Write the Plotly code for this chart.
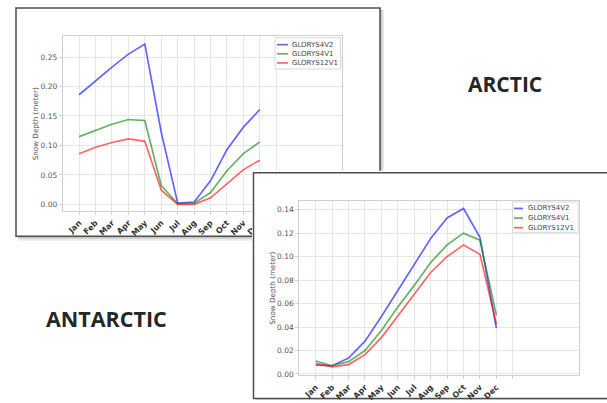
import plotly.graph_objects as go

W, H = 607, 403

# ---------------- data ----------------
months = ["Jan", "Feb", "Mar", "Apr", "May", "Jun", "Jul", "Aug", "Sep", "Oct", "Nov", "Dec"]
series_names = ["GLORYS4V2", "GLORYS4V1", "GLORYS12V1"]
series_colors = ["rgba(0,0,255,0.6)", "rgba(0,128,0,0.6)", "rgba(255,0,0,0.6)"]

arctic_4v2 = [0.186, 0.210, 0.233, 0.255, 0.272, 0.122, 0.002, 0.004, 0.040, 0.093, 0.131, 0.161]
arctic_4v1 = [0.115, 0.126, 0.136, 0.144, 0.142, 0.032, 0.001, 0.002, 0.020, 0.057, 0.086, 0.106]
arctic_12v1 = [0.086, 0.097, 0.105, 0.111, 0.107, 0.024, 0.000, 0.000, 0.011, 0.035, 0.059, 0.075]

antarctic_4v2 = [0.0076, 0.0070, 0.0135, 0.028, 0.049, 0.071, 0.094, 0.1155, 0.133, 0.141, 0.1165, 0.039]
antarctic_4v1 = [0.011, 0.007, 0.0105, 0.020, 0.037, 0.057, 0.0755, 0.095, 0.110, 0.120, 0.114, 0.050]
antarctic_12v1 = [0.009, 0.006, 0.008, 0.0165, 0.031, 0.0495, 0.0685, 0.0865, 0.100, 0.110, 0.102, 0.0425]

y_title = "Snow Depth (meter)"
region_labels = ["ARCTIC", "ANTARCTIC"]

# ---------------- helpers ----------------
def px(x):
    return x / W


def py(y):
    return 1 - y / H


x_idx = list(range(len(months)))
tick_vals = list(range(len(months) + 1))
tick_text = months + [""]

fig = go.Figure()

for name, color, vals in zip(series_names, series_colors, [arctic_4v2, arctic_4v1, arctic_12v1]):
    fig.add_trace(go.Scatter(x=x_idx, y=vals, mode="lines", name=name,
                             line=dict(color=color, width=1.7),
                             xaxis="x", yaxis="y", showlegend=False, hoverinfo="skip"))

# empty helper subplot that carries the white panel of the second figure
fig.add_trace(go.Scatter(x=[], y=[], xaxis="x2", yaxis="y2", showlegend=False, hoverinfo="skip"))

for name, color, vals in zip(series_names, series_colors, [antarctic_4v2, antarctic_4v1, antarctic_12v1]):
    fig.add_trace(go.Scatter(x=x_idx, y=vals, mode="lines", name=name,
                             line=dict(color=color, width=1.7),
                             xaxis="x3", yaxis="y3", showlegend=False, hoverinfo="skip"))

tickfont = dict(family="DejaVu Sans", size=7.5, color="#555555")
xtickfont = dict(family="DejaVu Sans", size=8, color="#333333", weight="bold")
common = dict(showline=True, mirror=True, linecolor="#cfcfcf", linewidth=1,
              showgrid=True, gridcolor="#e6e6e6", gridwidth=1, zeroline=False,
              ticks="outside", ticklen=3, tickcolor="#cfcfcf", fixedrange=True)

xcommon = dict(common, tickmode="array", tickvals=tick_vals, ticktext=tick_text,
               tickangle=-45, tickfont=xtickfont)
ycommon = dict(common, tickformat=".2f", tickfont=tickfont,
               title=dict(text=y_title, font=dict(family="DejaVu Sans", size=7.2, color="#555555"), standoff=0))

fig.update_layout(
    width=W, height=H, autosize=False,
    margin=dict(l=0, r=0, t=0, b=0),
    paper_bgcolor="white", plot_bgcolor="white",
    showlegend=False,
    xaxis=dict(xcommon, domain=[px(62.7), px(342)], range=[-1, 16], anchor="y"),
    yaxis=dict(ycommon, domain=[py(212.7), py(36.7)], range=[-0.0115, 0.285], tick0=0, dtick=0.05, anchor="x"),
    xaxis2=dict(domain=[px(252), 1], range=[252, W], visible=False, fixedrange=True, anchor="y2"),
    yaxis2=dict(domain=[0, py(172)], range=[H, 172], visible=False, fixedrange=True, anchor="x2"),
    xaxis3=dict(xcommon, domain=[px(299.3), px(579.3)], range=[-1, 16.05], anchor="y3"),
    yaxis3=dict(ycommon, domain=[py(378.3), py(202.3)], range=[-0.0013, 0.1476], tick0=0, dtick=0.02, anchor="x3"),
)

shapes = []
# Arctic frame with shadow (paper, below everything)
shapes.append(dict(type="rect", xref="paper", yref="paper", layer="below",
                   x0=px(18.5), x1=px(384), y0=py(242.5), y1=py(10),
                   fillcolor="rgba(0,0,0,0.08)", line=dict(width=0)))
shapes.append(dict(type="rect", xref="paper", yref="paper", layer="below",
                   x0=px(17.5), x1=px(382.5), y0=py(240.5), y1=py(9),
                   fillcolor="rgba(0,0,0,0.14)", line=dict(width=0)))
shapes.append(dict(type="rect", xref="paper", yref="paper", layer="below",
                   x0=px(16), x1=px(380), y0=py(238), y1=py(8),
                   fillcolor="white", line=dict(color="#4d4d4d", width=1.5)))
# Antarctic panel (drawn inside helper subplot, above the Arctic figure)
shapes.append(dict(type="rect", xref="x2", yref="y2", layer="below",
                   x0=256, x1=700, y0=177, y1=406,
                   fillcolor="rgba(0,0,0,0.12)", line=dict(width=0)))
shapes.append(dict(type="rect", xref="x2", yref="y2", layer="below",
                   x0=253.5, x1=700, y0=174, y1=401.5,
                   fillcolor="white", line=dict(color="#4d4d4d", width=1.5)))

annotations = []


def add_legend(x_box0, x_box1, y_box0, y_box1, x_line0, x_line1, x_text, y_first, dy):
    shapes.append(dict(type="rect", xref="paper", yref="paper", layer="above",
                       x0=px(x_box0), x1=px(x_box1), y0=py(y_box1), y1=py(y_box0),
                       fillcolor="rgba(255,255,255,0.92)", line=dict(color="#d9d9d9", width=1)))
    for i, (name, color) in enumerate(zip(series_names, series_colors)):
        yy = y_first + i * dy
        shapes.append(dict(type="line", xref="paper", yref="paper", layer="above",
                           x0=px(x_line0), x1=px(x_line1), y0=py(yy), y1=py(yy),
                           line=dict(color=color, width=1.7)))
        annotations.append(dict(text=name, xref="paper", yref="paper", x=px(x_text), y=py(yy),
                                xanchor="left", yanchor="middle", showarrow=False,
                                font=dict(family="DejaVu Sans", size=7, color="#444444")))


add_legend(275, 340.5, 38, 69.5, 277, 288, 290, 45, 9.2)
add_legend(512.5, 578, 203.5, 234, 514, 523, 526, 210, 9.7)

annotations.append(dict(text=region_labels[0], xref="paper", yref="paper", x=px(504.5), y=py(85),
                        xanchor="center", yanchor="middle", showarrow=False,
                        font=dict(family="Open Sans", size=21, color="#262626", weight="bold")))
annotations.append(dict(text=region_labels[1], xref="paper", yref="paper", x=px(106.5), y=py(321),
                        xanchor="center", yanchor="middle", showarrow=False,
                        font=dict(family="Open Sans", size=21.5, color="#262626", weight="bold")))

fig.update_layout(shapes=shapes, annotations=annotations)
fig.write_html("out.html",
               config={"displayModeBar": False, "staticPlot": True},
               post_script="document.body.style.margin='0';document.body.style.padding='0';"
                           "document.body.style.overflow='hidden';")
